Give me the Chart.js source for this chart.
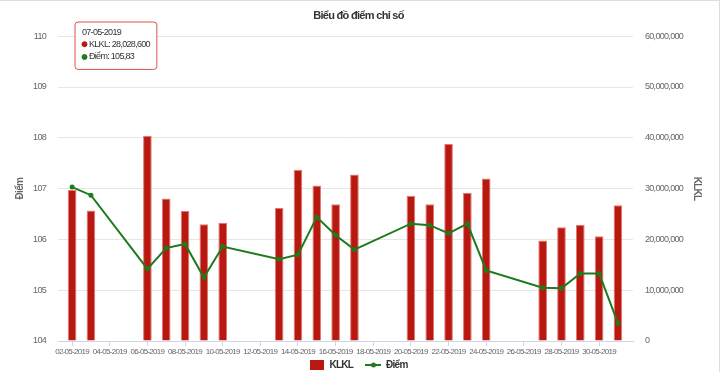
<!DOCTYPE html>
<html>
<head>
<meta charset="utf-8">
<script src="https://cdn.jsdelivr.net/npm/chart.js@4.4.1/dist/chart.umd.min.js"></script>
<style>
  html, body { margin: 0; padding: 0; background: #fff; }
  #wrap { position: relative; width: 720px; height: 372px; box-sizing: border-box; border-top: 1px solid #ddd; border-right: 1px solid #ddd; }
</style>
</head>
<body>
<div id="wrap"><canvas id="myChart"></canvas></div>
<script>
// ngày giao dịch tháng 5/2019
const dates = ['02-05-2019', '03-05-2019', '06-05-2019', '07-05-2019', '08-05-2019', '09-05-2019', '10-05-2019',
  '13-05-2019', '14-05-2019', '15-05-2019', '16-05-2019', '17-05-2019',
  '20-05-2019', '21-05-2019', '22-05-2019', '23-05-2019', '24-05-2019',
  '27-05-2019', '28-05-2019', '29-05-2019', '30-05-2019', '31-05-2019'];
const klkl = [29700000, 25700000, 40400000, 28028600, 25600000, 23000000, 23300000,
  26200000, 33700000, 30600000, 26900000, 32800000,
  28600000, 26900000, 38800000, 29200000, 32000000,
  19800000, 22400000, 22900000, 20600000, 26700000];
const diem = [107.03, 106.87, 105.42, 105.83, 105.91, 105.25, 105.86,
  105.61, 105.70, 106.44, 106.08, 105.80,
  106.31, 106.28, 106.12, 106.31, 105.39,
  105.05, 105.04, 105.33, 105.33, 104.35];
const tickDays = [2, 4, 6, 8, 10, 12, 14, 16, 18, 20, 22, 24, 26, 28, 30];
const activeIndex = 3;

const FONT = "'Liberation Sans', Arial, sans-serif";
const RED = '#b8180f';
const GREEN = '#1d7a1d';

function dayOf(s) { return parseInt(s.split('-')[0], 10); }
function pad2(n) { return (n < 10 ? '0' : '') + n; }

// icon cho legend
function barIcon() {
  const c = document.createElement('canvas');
  c.width = 14; c.height = 10;
  const g = c.getContext('2d');
  g.fillStyle = RED; g.fillRect(0, 0, 14, 10);
  return c;
}
function lineIcon() {
  const c = document.createElement('canvas');
  c.width = 16; c.height = 6;
  const g = c.getContext('2d');
  g.strokeStyle = GREEN; g.lineWidth = 2;
  g.beginPath(); g.moveTo(0, 3); g.lineTo(16, 3); g.stroke();
  g.fillStyle = GREEN; g.beginPath(); g.arc(8, 3, 2.5, 0, Math.PI * 2); g.fill();
  return c;
}

// chữ hẹp hơn giống font condensed của bản gốc
const narrowText = {
  id: 'narrowText',
  beforeUpdate: c => { c.ctx.letterSpacing = '-0.7px'; },
  beforeLayout: c => { c.ctx.letterSpacing = '-0.7px'; },
  beforeDraw: c => { c.ctx.letterSpacing = '-0.7px'; }
};

Chart.Tooltip.positioners.topLeft = function () {
  return { x: 78, y: 21 };
};

const data = {
  datasets: [{
    type: 'bar',
    label: 'KLKL',
    data: dates.map((d, i) => ({ x: dayOf(d), y: klkl[i] })),
    yAxisID: 'y1',
    backgroundColor: RED,
    borderColor: '#e07a74',
    borderWidth: 1,
    barPercentage: 0.46,
    categoryPercentage: 1,
    order: 1
  }, {
    type: 'line',
    label: 'Điểm',
    data: dates.map((d, i) => ({ x: dayOf(d), y: diem[i] })),
    yAxisID: 'y',
    borderColor: GREEN,
    backgroundColor: GREEN,
    borderWidth: 2,
    pointRadius: 1.5,
    pointHoverRadius: 1.5,
    tension: 0,
    order: 0
  }]
};

const config = {
  data: data,
  plugins: [narrowText],
  options: {
    responsive: true,
    maintainAspectRatio: false,
    animation: false,
    layout: { padding: { left: 14, right: 16, top: 0, bottom: -8 } },
    interaction: { mode: 'index', intersect: false },
    scales: {
      x: {
        type: 'linear',
        offset: false,
        min: 1.25,
        max: 31.8,
        afterBuildTicks: s => { s.ticks = tickDays.map(v => ({ value: v })); },
        ticks: {
          autoSkip: false,
          maxRotation: 0,
          padding: 1,
          color: '#666',
          font: { family: FONT, size: 8 },
          callback: v => pad2(v) + '-05-2019'
        },
        grid: { offset: false, drawOnChartArea: false, drawTicks: true, tickLength: 5, color: '#ccd6eb' },
        border: { color: '#ccd6eb' },
        afterFit: s => { s.height = 16; }
      },
      y: {
        position: 'left',
        min: 104,
        max: 110,
        ticks: { stepSize: 1, padding: 12, color: '#666', font: { family: FONT, size: 9 } },
        grid: { color: '#e6e6e6', drawTicks: false },
        border: { display: false },
        title: { display: true, text: 'Điểm', color: '#666', font: { family: FONT, size: 10, weight: 'bold' }, padding: 0 },
        afterFit: s => { s.width = 44; }
      },
      y1: {
        position: 'right',
        min: 0,
        max: 60000000,
        ticks: {
          stepSize: 10000000, padding: 12, color: '#666', font: { family: FONT, size: 9 },
          callback: v => v.toLocaleString('en-US')
        },
        grid: { drawOnChartArea: false, drawTicks: false },
        border: { display: false },
        title: { display: true, text: 'KLKL', color: '#666', font: { family: FONT, size: 10, weight: 'bold' }, padding: 0 },
        afterFit: s => { s.width = 70; }
      }
    },
    plugins: {
      title: {
        display: true,
        text: 'Biểu đồ điểm chỉ số',
        color: '#333',
        font: { family: FONT, size: 11, weight: 'bold' },
        padding: { top: 8, bottom: 14 }
      },
      legend: {
        position: 'bottom',
        labels: {
          usePointStyle: true,
          pointStyleWidth: 15,
          padding: 3,
          color: '#333',
          font: { family: FONT, size: 10, weight: 'bold' },
          generateLabels: chart => {
            const items = Chart.defaults.plugins.legend.labels.generateLabels(chart);
            items.sort((a, b) => a.datasetIndex - b.datasetIndex);
            items.forEach(it => {
              it.pointStyle = it.datasetIndex === 0 ? barIcon() : lineIcon();
              // khoảng cách giữa hai mục chú thích
              if (it.datasetIndex === 0) it.text = it.text + '\u2007\u2007';
            });
            return items;
          }
        }
      },
      tooltip: {
        position: 'topLeft',
        xAlign: 'left',
        yAlign: 'top',
        caretSize: 0,
        caretPadding: 0,
        backgroundColor: 'rgba(255,255,255,0.95)',
        borderColor: '#d9534f',
        borderWidth: 1,
        cornerRadius: 3,
        padding: { left: 7, right: 7, top: 5, bottom: 7 },
        titleColor: '#333',
        bodyColor: '#333',
        titleFont: { family: FONT, size: 9, weight: 'normal' },
        bodyFont: { family: FONT, size: 9 },
        titleMarginBottom: 1,
        bodySpacing: 2,
        usePointStyle: true,
        boxWidth: 5,
        boxHeight: 5,
        itemSort: (a, b) => a.datasetIndex - b.datasetIndex,
        callbacks: {
          title: items => dates[items[0].dataIndex],
          label: item => item.datasetIndex === 0
            ? 'KLKL: ' + klkl[item.dataIndex].toLocaleString('en-US')
            : 'Điểm: ' + diem[item.dataIndex].toFixed(2).replace('.', ','),
          labelPointStyle: () => ({ pointStyle: 'circle', rotation: 0 }),
          labelColor: item => {
            const c = item.datasetIndex === 0 ? RED : GREEN;
            return { borderColor: c, backgroundColor: c, borderWidth: 0 };
          }
        }
      }
    }
  }
};

const myChart = new Chart(document.getElementById('myChart'), config);
myChart.tooltip.setActiveElements([
  { datasetIndex: 0, index: activeIndex },
  { datasetIndex: 1, index: activeIndex }
], { x: 0, y: 0 });
myChart.update();
</script>
</body>
</html>
